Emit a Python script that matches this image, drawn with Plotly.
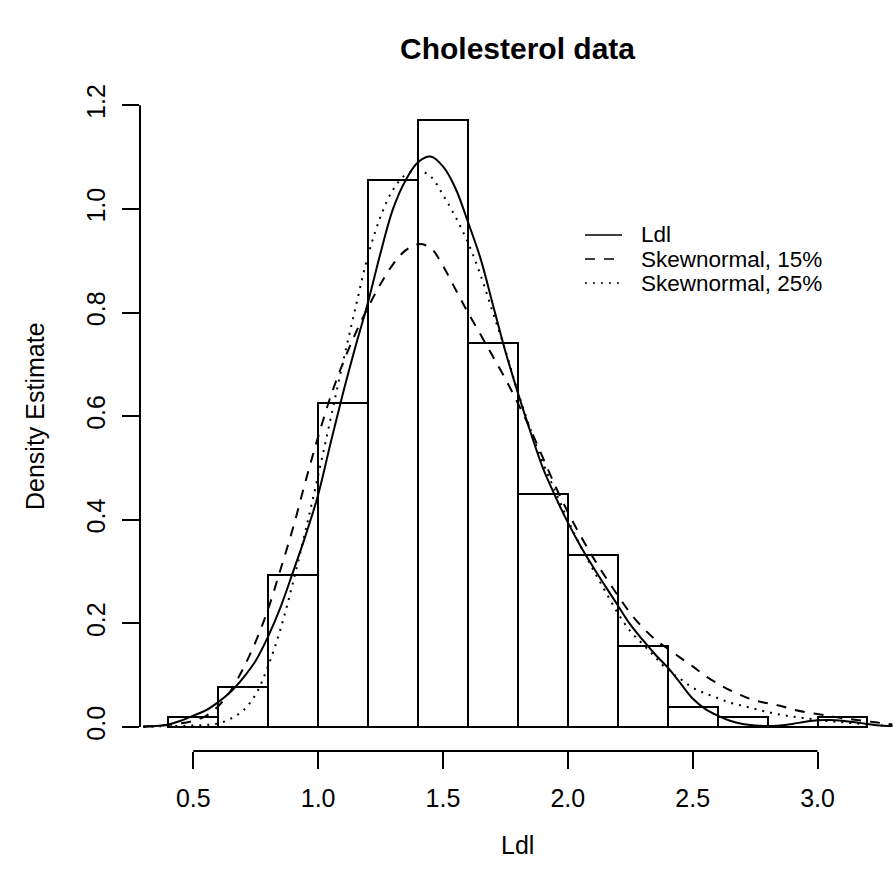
import plotly.graph_objects as go

# Histogram of LDL cholesterol (density scale), bins of width 0.2
bin_left = [0.4, 0.6, 0.8, 1.0, 1.2, 1.4, 1.6, 1.8, 2.0, 2.2, 2.4, 2.6, 2.8, 3.0]
bin_density = [0.0195, 0.0781, 0.293, 0.625, 1.055, 1.172, 0.742, 0.449,
               0.332, 0.156, 0.039, 0.0195, 0.0, 0.0195]
bin_width = 0.2

# Evaluation grid shared by the three density curves
curve_x = [0.30, 0.35, 0.40, 0.45, 0.50, 0.55, 0.60, 0.65, 0.70, 0.75,
           0.80, 0.85, 0.90, 0.95, 1.00, 1.05, 1.10, 1.15, 1.20, 1.25,
           1.30, 1.35, 1.40, 1.45, 1.50, 1.55, 1.60, 1.65, 1.70, 1.75,
           1.80, 1.85, 1.90, 1.95, 2.00, 2.05, 2.10, 2.15, 2.20, 2.25,
           2.30, 2.35, 2.40, 2.45, 2.50, 2.55, 2.60, 2.65, 2.70, 2.75,
           2.80, 2.85, 2.90, 2.95, 3.00, 3.05, 3.10, 3.15, 3.20, 3.25,
           3.30]

# Kernel density estimate of Ldl
ldl_density = [0.001, 0.002, 0.005, 0.012, 0.022, 0.032, 0.048, 0.068, 0.095, 0.128,
               0.175, 0.232, 0.300, 0.370, 0.448, 0.548, 0.645, 0.735, 0.820, 0.915,
               1.000, 1.055, 1.090, 1.101, 1.082, 1.040, 0.975, 0.905, 0.815, 0.725,
               0.645, 0.570, 0.500, 0.445, 0.395, 0.350, 0.310, 0.272, 0.235, 0.198,
               0.168, 0.140, 0.115, 0.085, 0.055, 0.035, 0.022, 0.012, 0.006, 0.003,
               0.002, 0.003, 0.006, 0.010, 0.013, 0.0135, 0.012, 0.009, 0.006, 0.003,
               0.002]

# Fitted skew-normal density, 15% trimming
sn15_density = [0.001, 0.002, 0.004, 0.007, 0.012, 0.021, 0.040, 0.070, 0.113, 0.165,
                0.228, 0.305, 0.385, 0.475, 0.560, 0.638, 0.703, 0.760, 0.810, 0.855,
                0.893, 0.920, 0.932, 0.925, 0.890, 0.845, 0.800, 0.758, 0.715, 0.672,
                0.625, 0.575, 0.520, 0.465, 0.415, 0.370, 0.328, 0.290, 0.254, 0.220,
                0.192, 0.169, 0.151, 0.134, 0.117, 0.099, 0.084, 0.071, 0.060, 0.051,
                0.046, 0.041, 0.034, 0.029, 0.025, 0.021, 0.017, 0.014, 0.011, 0.008,
                0.005]

# Fitted skew-normal density, 25% trimming
sn25_density = [0.000, 0.001, 0.002, 0.002, 0.003, 0.004, 0.007, 0.016, 0.032, 0.063,
                0.118, 0.190, 0.280, 0.380, 0.485, 0.595, 0.705, 0.810, 0.910, 0.985,
                1.037, 1.066, 1.074, 1.063, 1.027, 0.985, 0.935, 0.873, 0.800, 0.727,
                0.647, 0.575, 0.510, 0.455, 0.400, 0.350, 0.305, 0.262, 0.220, 0.185,
                0.160, 0.135, 0.110, 0.093, 0.076, 0.065, 0.056, 0.047, 0.041, 0.035,
                0.029, 0.024, 0.020, 0.017, 0.014, 0.011, 0.009, 0.007, 0.005, 0.003,
                0.002]

legend_labels = ["Ldl", "Skewnormal, 15%", "Skewnormal, 25%"]
x_ticks = [0.5, 1.0, 1.5, 2.0, 2.5, 3.0]
y_ticks = [0.0, 0.2, 0.4, 0.6, 0.8, 1.0, 1.2]

FONT = "Liberation Sans, Arial, Helvetica, sans-serif"
W, H = 893, 884
ML, MR, MT, MB = 140, 0, 96, 133
PW, PH = W - ML - MR, H - MT - MB

line_styles = [
    dict(color="black", width=2, dash="solid"),
    dict(color="black", width=2, dash="10px,9px"),
    dict(color="black", width=2, dash="2px,6px"),
]

fig = go.Figure()

fig.add_trace(go.Bar(
    x=bin_left, y=bin_density, width=bin_width, offset=0,
    marker=dict(color="rgba(0,0,0,0)", line=dict(color="black", width=2)),
    showlegend=False, hoverinfo="skip",
))

for ys, style, name in zip([ldl_density, sn15_density, sn25_density],
                           line_styles, legend_labels):
    fig.add_trace(go.Scatter(
        x=curve_x, y=ys, mode="lines", name=name,
        line=dict(shape="spline", smoothing=1.0, **style),
        showlegend=False, cliponaxis=True,
    ))


def px_to_paper_x(px):
    return (px - ML) / PW


def px_to_paper_y(py):
    return (H - MB - py) / PH


shapes = [
    # axis lines spanning only the tick range
    dict(type="line", xref="paper", yref="y", x0=0, x1=0,
         y0=y_ticks[0], y1=y_ticks[-1], line=dict(color="black", width=2)),
    dict(type="line", xref="x", yref="paper", y0=0, y1=0,
         x0=x_ticks[0], x1=x_ticks[-1], line=dict(color="black", width=2)),
]

annotations = [
    dict(text="<b>Cholesterol data</b>", xref="paper", yref="paper",
         x=px_to_paper_x(517.5), y=px_to_paper_y(48), xanchor="center",
         yanchor="middle", showarrow=False, font=dict(size=30, family=FONT, color="black")),
    dict(text="Ldl", xref="paper", yref="paper",
         x=px_to_paper_x(517.5), y=px_to_paper_y(845), xanchor="center",
         yanchor="middle", showarrow=False, font=dict(size=25, family=FONT, color="black")),
    dict(text="Density Estimate", xref="paper", yref="paper",
         x=px_to_paper_x(35), y=px_to_paper_y(416), xanchor="center",
         yanchor="middle", textangle=-90, showarrow=False,
         font=dict(size=25, family=FONT, color="black")),
]

# legend keys and labels
for i, (label, style) in enumerate(zip(legend_labels, line_styles)):
    row_y = 235 + 24 * i
    shapes.append(dict(type="line", xref="paper", yref="paper",
                       x0=px_to_paper_x(585), x1=px_to_paper_x(622),
                       y0=px_to_paper_y(row_y), y1=px_to_paper_y(row_y),
                       line=dict(color="black", width=1.5, dash=style["dash"])))
    annotations.append(dict(text=label, xref="paper", yref="paper",
                            x=px_to_paper_x(639), y=px_to_paper_y(row_y),
                            xanchor="left", yanchor="middle", showarrow=False,
                            font=dict(size=22.5, family=FONT, color="black")))

axis_common = dict(
    showgrid=False, zeroline=False, showline=False,
    ticks="outside", ticklen=17, tickwidth=2, tickcolor="black",
    tickfont=dict(size=25, family=FONT, color="black"),
)

fig.update_layout(
    width=W, height=H,
    margin=dict(l=ML, r=MR, t=MT, b=MB, pad=0),
    paper_bgcolor="white", plot_bgcolor="white",
    showlegend=False,
    xaxis=dict(range=[0.2867, 3.3023], tickvals=x_ticks,
               ticktext=[f"{v:.1f}" for v in x_ticks],
               ticklabelstandoff=8, **axis_common),
    yaxis=dict(range=[-0.0463, 1.218], tickvals=y_ticks,
               ticktext=[f"{v:.1f}" for v in y_ticks],
               tickangle=-90, ticklabelstandoff=7, **axis_common),
    shapes=shapes,
    annotations=annotations,
    bargap=0,
)

fig.write_html("out.html")
